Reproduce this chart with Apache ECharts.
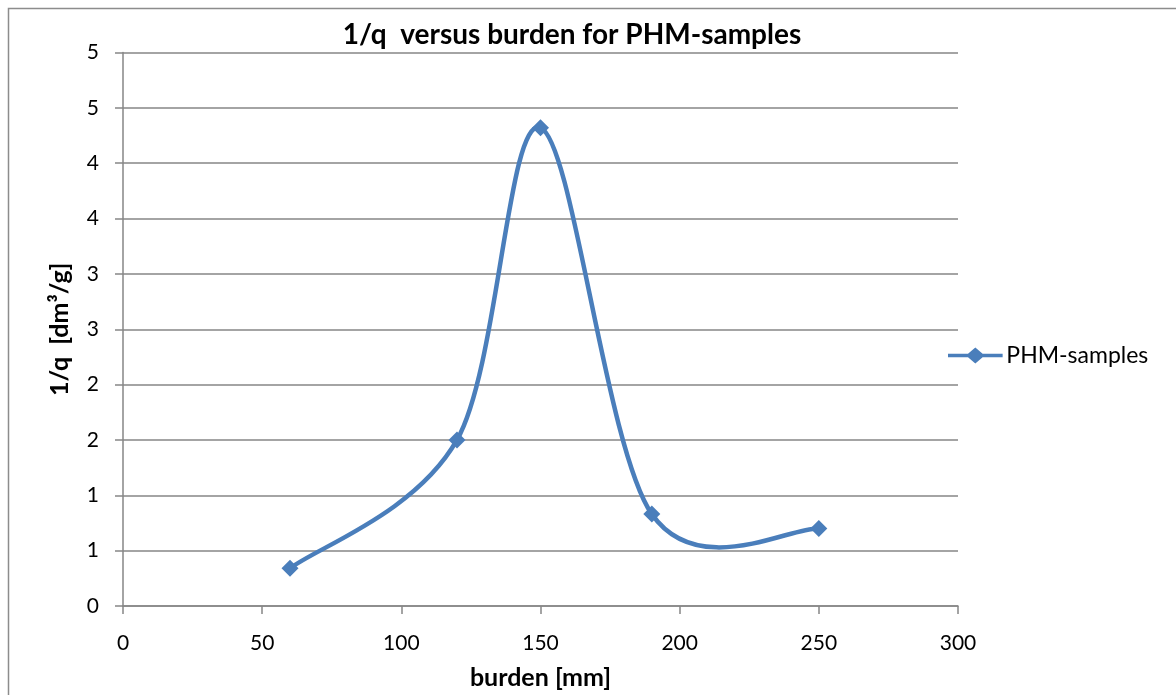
<!DOCTYPE html>
<html><head><meta charset="utf-8">
<script src="https://cdn.jsdelivr.net/npm/echarts@6/dist/echarts.min.js"></script>
<style>html,body{margin:0;padding:0;background:#fff}#c{width:1176px;height:695px}</style>
</head><body><div id="c"></div>
<script>
const burden = [60, 120, 150, 190, 250];
const invQ = [0.34, 1.50, 4.32, 0.83, 0.70];
const yTickLabels = ['0','1','1','2','2','3','3','4','4','5','5'];
const xTickLabels = ['0','50','100','150','200','250','300'];
const seriesName = 'PHM-samples';
const FONT = 'Lato, "Open Sans", sans-serif';
const BLUE = '#4a7ebb';
const chart = echarts.init(document.getElementById('c'));

// Smooth curve drawn like a spreadsheet "smoothed line": cubic Bezier
// segments with Catmull-Rom control points computed in pixel space
// from the data, converted through the chart's own axes.
function renderSegment(params, api) {
  const i = params.dataIndex;
  const n = burden.length;
  if (i >= n - 1) return null;
  const P = k => { const j = Math.max(0, Math.min(n - 1, k)); return api.coord([burden[j], invQ[j]]); };
  const p0 = P(i - 1), p1 = P(i), p2 = P(i + 1), p3 = P(i + 2);
  const c1 = [p1[0] + (p2[0] - p0[0]) / 6, p1[1] + (p2[1] - p0[1]) / 6];
  const c2 = [p2[0] - (p3[0] - p1[0]) / 6, p2[1] - (p3[1] - p1[1]) / 6];
  return {
    type: 'bezierCurve',
    shape: {x1: p1[0], y1: p1[1], cpx1: c1[0], cpy1: c1[1], cpx2: c2[0], cpy2: c2[1], x2: p2[0], y2: p2[1]},
    style: {stroke: BLUE, lineWidth: 4.5, fill: 'none', lineCap: 'round'}
  };
}

chart.setOption({
  animation:false,
  backgroundColor:'#fff',
  graphic:[{type:'rect',shape:{x:8.5,y:8.5,width:1180,height:700},style:{fill:'none',stroke:'#8c8c8c',lineWidth:1.5}}],
  title:{text:'1/q  versus burden for PHM-samples',left:567,top:16,textAlign:'center',
    textStyle:{fontFamily:FONT,fontSize:28,fontWeight:'bold',color:'#000'}},
  legend:{data:[{name:seriesName,icon:'path://M0,6.2 L20.5,6.2 L28,-0.2 L35.5,6.2 L56,6.2 L56,9.8 L35.5,9.8 L28,16.2 L20.5,9.8 L0,9.8 Z'}],
    left:943,top:339,itemWidth:56,itemHeight:16,itemGap:4,
    itemStyle:{color:BLUE},
    textStyle:{fontFamily:FONT,fontSize:23,color:'#000',padding:[0,0,0,-2]}},
  grid:{left:123,right:218,top:52.5,bottom:87},
  xAxis:{type:'value',min:0,max:300,interval:50,
    name:'burden [mm]',nameLocation:'middle',nameGap:59,
    nameTextStyle:{fontFamily:FONT,fontSize:25,fontWeight:'bold',color:'#000'},
    axisLine:{lineStyle:{color:'#868686',width:1.5}},
    axisTick:{show:true,length:8,lineStyle:{color:'#868686',width:1.5}},
    axisLabel:{fontFamily:FONT,fontSize:21,color:'#000',margin:27,formatter:(v,i)=>xTickLabels[i]},
    splitLine:{show:false}},
  yAxis:{type:'value',min:0,max:5,interval:0.5,
    name:'1/q  [dm³/g]',nameLocation:'middle',nameGap:51,nameRotate:90,
    nameTextStyle:{fontFamily:FONT,fontSize:25,fontWeight:'bold',color:'#000'},
    axisLine:{show:true,lineStyle:{color:'#868686',width:1.5}},
    axisTick:{show:true,length:8,lineStyle:{color:'#868686',width:1.5}},
    axisLabel:{fontFamily:FONT,fontSize:21,color:'#000',margin:24,formatter:(v,i)=>yTickLabels[i]},
    splitLine:{show:true,lineStyle:{color:'#868686',width:1.5}}},
  series:[
    {name:'curve',type:'custom',renderItem:renderSegment,
     data:burden.map((b,i)=>[b,invQ[i]]),z:2,silent:true},
    {name:seriesName,type:'line',
     data:burden.map((b,i)=>[b,invQ[i]]),
     symbol:'diamond',symbolSize:17,z:3,
     lineStyle:{width:0,opacity:0},
     itemStyle:{color:BLUE}}]
});
</script></body></html>
